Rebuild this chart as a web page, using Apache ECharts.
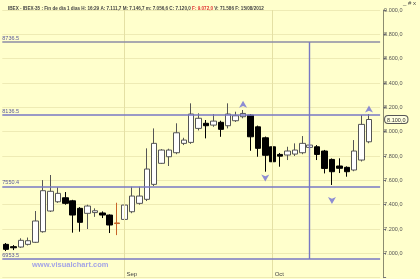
<!DOCTYPE html>
<html><head><meta charset="utf-8">
<script src="https://cdn.jsdelivr.net/npm/echarts@6/dist/echarts.min.js"></script>
<style>html,body{margin:0;padding:0;background:#FFFFCC}#c{width:420px;height:279px}</style>
</head><body><div id="c"></div>
<script>
const dates = ['2012-08-10','2012-08-13','2012-08-14','2012-08-15','2012-08-16','2012-08-17','2012-08-20','2012-08-21','2012-08-22','2012-08-23','2012-08-24','2012-08-27','2012-08-28','2012-08-29','2012-08-30','2012-08-31',
'2012-09-03','2012-09-04','2012-09-05','2012-09-06','2012-09-07','2012-09-10','2012-09-11','2012-09-12','2012-09-13','2012-09-14','2012-09-17','2012-09-18','2012-09-19','2012-09-20','2012-09-21','2012-09-24','2012-09-25','2012-09-26','2012-09-27','2012-09-28',
'2012-10-01','2012-10-02','2012-10-03','2012-10-04','2012-10-05','2012-10-08','2012-10-09','2012-10-10','2012-10-11','2012-10-12','2012-10-15','2012-10-16','2012-10-17','2012-10-18','2012-10-19'];
const opens  = [7074,7055,7052,7074,7091,7178,7348,7424,7457,7432,7370,7329,7335,7332,7315,7250,7279,7342,7411,7444,7567,7740,7794,7827,7904,7912,8027,8069,8054,8077,8049,8090,8123,8136,8040,7950,7876,7813,7808,7816,7827,7871,7876,7841,7772,7718,7707,7685,7767,7917];
const highs  = [7085,7068,7124,7130,7348,7602,7644,7543,7504,7440,7380,7400,7370,7345,7320,7416,7413,7548,7548,7863,8027,7857,7860,8069,7950,8233,8151,8096,8145,8090,8233,8164,8178,8145,8050,7960,7885,7825,7876,7904,7964,7900,7890,7850,7780,7781,7715,7931,8136,8145];
const lows   = [7019,7027,7045,7065,7085,7170,7340,7415,7400,7170,7178,7200,7300,7290,7167,7150,7257,7330,7400,7430,7553,7735,7718,7815,7890,7900,8010,7945,8040,7958,8027,8080,8110,7843,7794,7671,7712,7712,7767,7800,7815,7860,7767,7657,7562,7660,7630,7675,7755,7905];
const closes = [7033,7046,7107,7104,7266,7515,7510,7493,7411,7315,7255,7389,7350,7315,7233,7245,7397,7471,7471,7693,7904,7849,7849,7991,7931,8145,8110,8049,8087,8019,8145,8131,8150,7958,7863,7806,7753,7799,7841,7849,7904,7890,7813,7698,7671,7699,7671,7841,8060,8100];
const specialIdx = [15];
const levels = [8736.5, 8136.5, 7550.4, 6953.5];
const vLineIdx = 41;
const arrowIdx = [32, 35, 44, 49];
const arrowVal = [8254, 7590, 7405, 8215];
const arrowUp  = [true, false, false, true];
const monthTicks = ['2012-09-03','2012-10-01'];
const monthLabels = ['Sep','Oct'];

const FONT = 'Liberation Sans, Arial, sans-serif';
function fmt(v){
  const s = v.toFixed(1).split('.');
  return s[0].replace(/\B(?=(\d{3})+(?!\d))/g,'.') + ',' + s[1];
}
const candleData = opens.map((o,i)=>{
  const item = {value:[o, closes[i], lows[i], highs[i]]};
  if (specialIdx.includes(i)) item.itemStyle = {color:'#C86428', color0:'#C86428', borderColor:'#C86428', borderColor0:'#C86428'};
  return item;
});
const lastClose = closes[closes.length-1];
const BLUE = '#7878C4';
const lvlLines = levels.map((v,i)=>({
  yAxis: v,
  lineStyle: {color: i===0 ? '#8C8CA6' : BLUE, width: 1.5, type:'solid'},
  label: {show:true, position:'insideStartTop', distance:[0,1], formatter: ()=>v.toFixed(1), color:'#5A5A9A', fontSize:5.5, fontFamily:FONT}
}));
const monthLines = monthTicks.map(d=>({xAxis:d, lineStyle:{color:'#E4E0A4', width:1, type:'solid'}, label:{show:false}}));
const vStyle = {color:BLUE, width:1.4, type:'solid', opacity:1};
const vLine = [{coord:[vLineIdx, levels[0]], lineStyle:vStyle, label:{show:false}}, {coord:[vLineIdx, levels[3]], lineStyle:vStyle, label:{show:false}}];

const chart = echarts.init(document.getElementById('c'), null, {renderer:'canvas'});
chart.setOption({
  backgroundColor:'#FFFFCC',
  animation:false,
  title:{
    left:3, top:1,
    text:'{a|IBEX - IBEX-35 : Fin de dia 1 dias H: 16:29 A: 7.111,7 M: 7.146,7 m: 7.056,6 C: 7.120,0 }{b|F: 9.072,0}{a| V: 71.586 F: 15/08/2012}',
    textStyle:{rich:{a:{fontSize:4.6, color:'#444', fontFamily:FONT}, b:{fontSize:4.6, color:'#E03030', fontFamily:FONT}}}
  },
  graphic:[
    {type:'text', right:4, top:0, style:{text:'_ # x', fontSize:6, fill:'#444', fontFamily:FONT}},
    {type:'text', left:32, top:261, style:{text:'www.visualchart.com', fontSize:7.5, fontWeight:'bold', fill:'#A4A4E6', fontFamily:FONT}}
  ],
  grid:{left:2.3, right:39.9, top:10, bottom:1.3},
  xAxis:{
    type:'category', data:dates, boundaryGap:true,
    axisLine:{show:false},
    axisTick:{show:true, inside:true, length:8, alignWithLabel:true, interval:(i,v)=>monthTicks.includes(v), lineStyle:{color:'#777'}},
    axisLabel:{show:true, inside:true, margin:0, align:'left', padding:[0,0,0,2], interval:(i,v)=>monthTicks.includes(v), formatter:v=>monthLabels[monthTicks.indexOf(v)] || '', fontSize:6, color:'#444', fontFamily:FONT},
    splitLine:{show:false}
  },
  yAxis:{
    type:'value', position:'right', offset:3, min:6800, max:9000, interval:200, scale:true,
    axisLine:{show:true, lineStyle:{color:'#8C8C70'}},
    axisTick:{show:true, length:3, lineStyle:{color:'#777'}},
    axisLabel:{margin:1, fontSize:5.5, color:'#555', fontFamily:FONT, formatter:v=> v===6800 ? '' : fmt(v)},
    splitLine:{show:true, lineStyle:{color:'#EEEBB4', width:1}},
    axisPointer:{show:true, value:lastClose, status:'show', triggerTooltip:false,
      lineStyle:{opacity:0},
      label:{show:true, formatter:p=>fmt(p.value), color:'#333', fontSize:5.5, fontFamily:FONT, backgroundColor:'#FFFFE0', borderColor:'#555', borderWidth:1, padding:[1,2,0,2], margin:2}}
  },
  series:[
    {
      type:'candlestick', data:candleData, barWidth:6,
      itemStyle:{color:'#FFFFFF', color0:'#000000', borderColor:'#555555', borderColor0:'#000000', borderWidth:1},
      markLine:{silent:true, symbol:'none', animation:false, lineStyle:{color:BLUE, width:1, type:'solid'}, data:[...monthLines, ...lvlLines]}
    },
    {
      type:'line', data:[], silent:true,
      markLine:{silent:true, symbol:'none', animation:false, lineStyle:vStyle, itemStyle:{color:BLUE}, data:[vLine]}
    },
    {
      type:'scatter', symbol:'arrow', symbolSize:[6,7],
      data: arrowIdx.map((ix,i)=>({value:[dates[ix], arrowVal[i]], symbolRotate: arrowUp[i]?0:180})),
      itemStyle:{color:'#7070D4'}, z:5
    }
  ]
});
</script></body></html>
